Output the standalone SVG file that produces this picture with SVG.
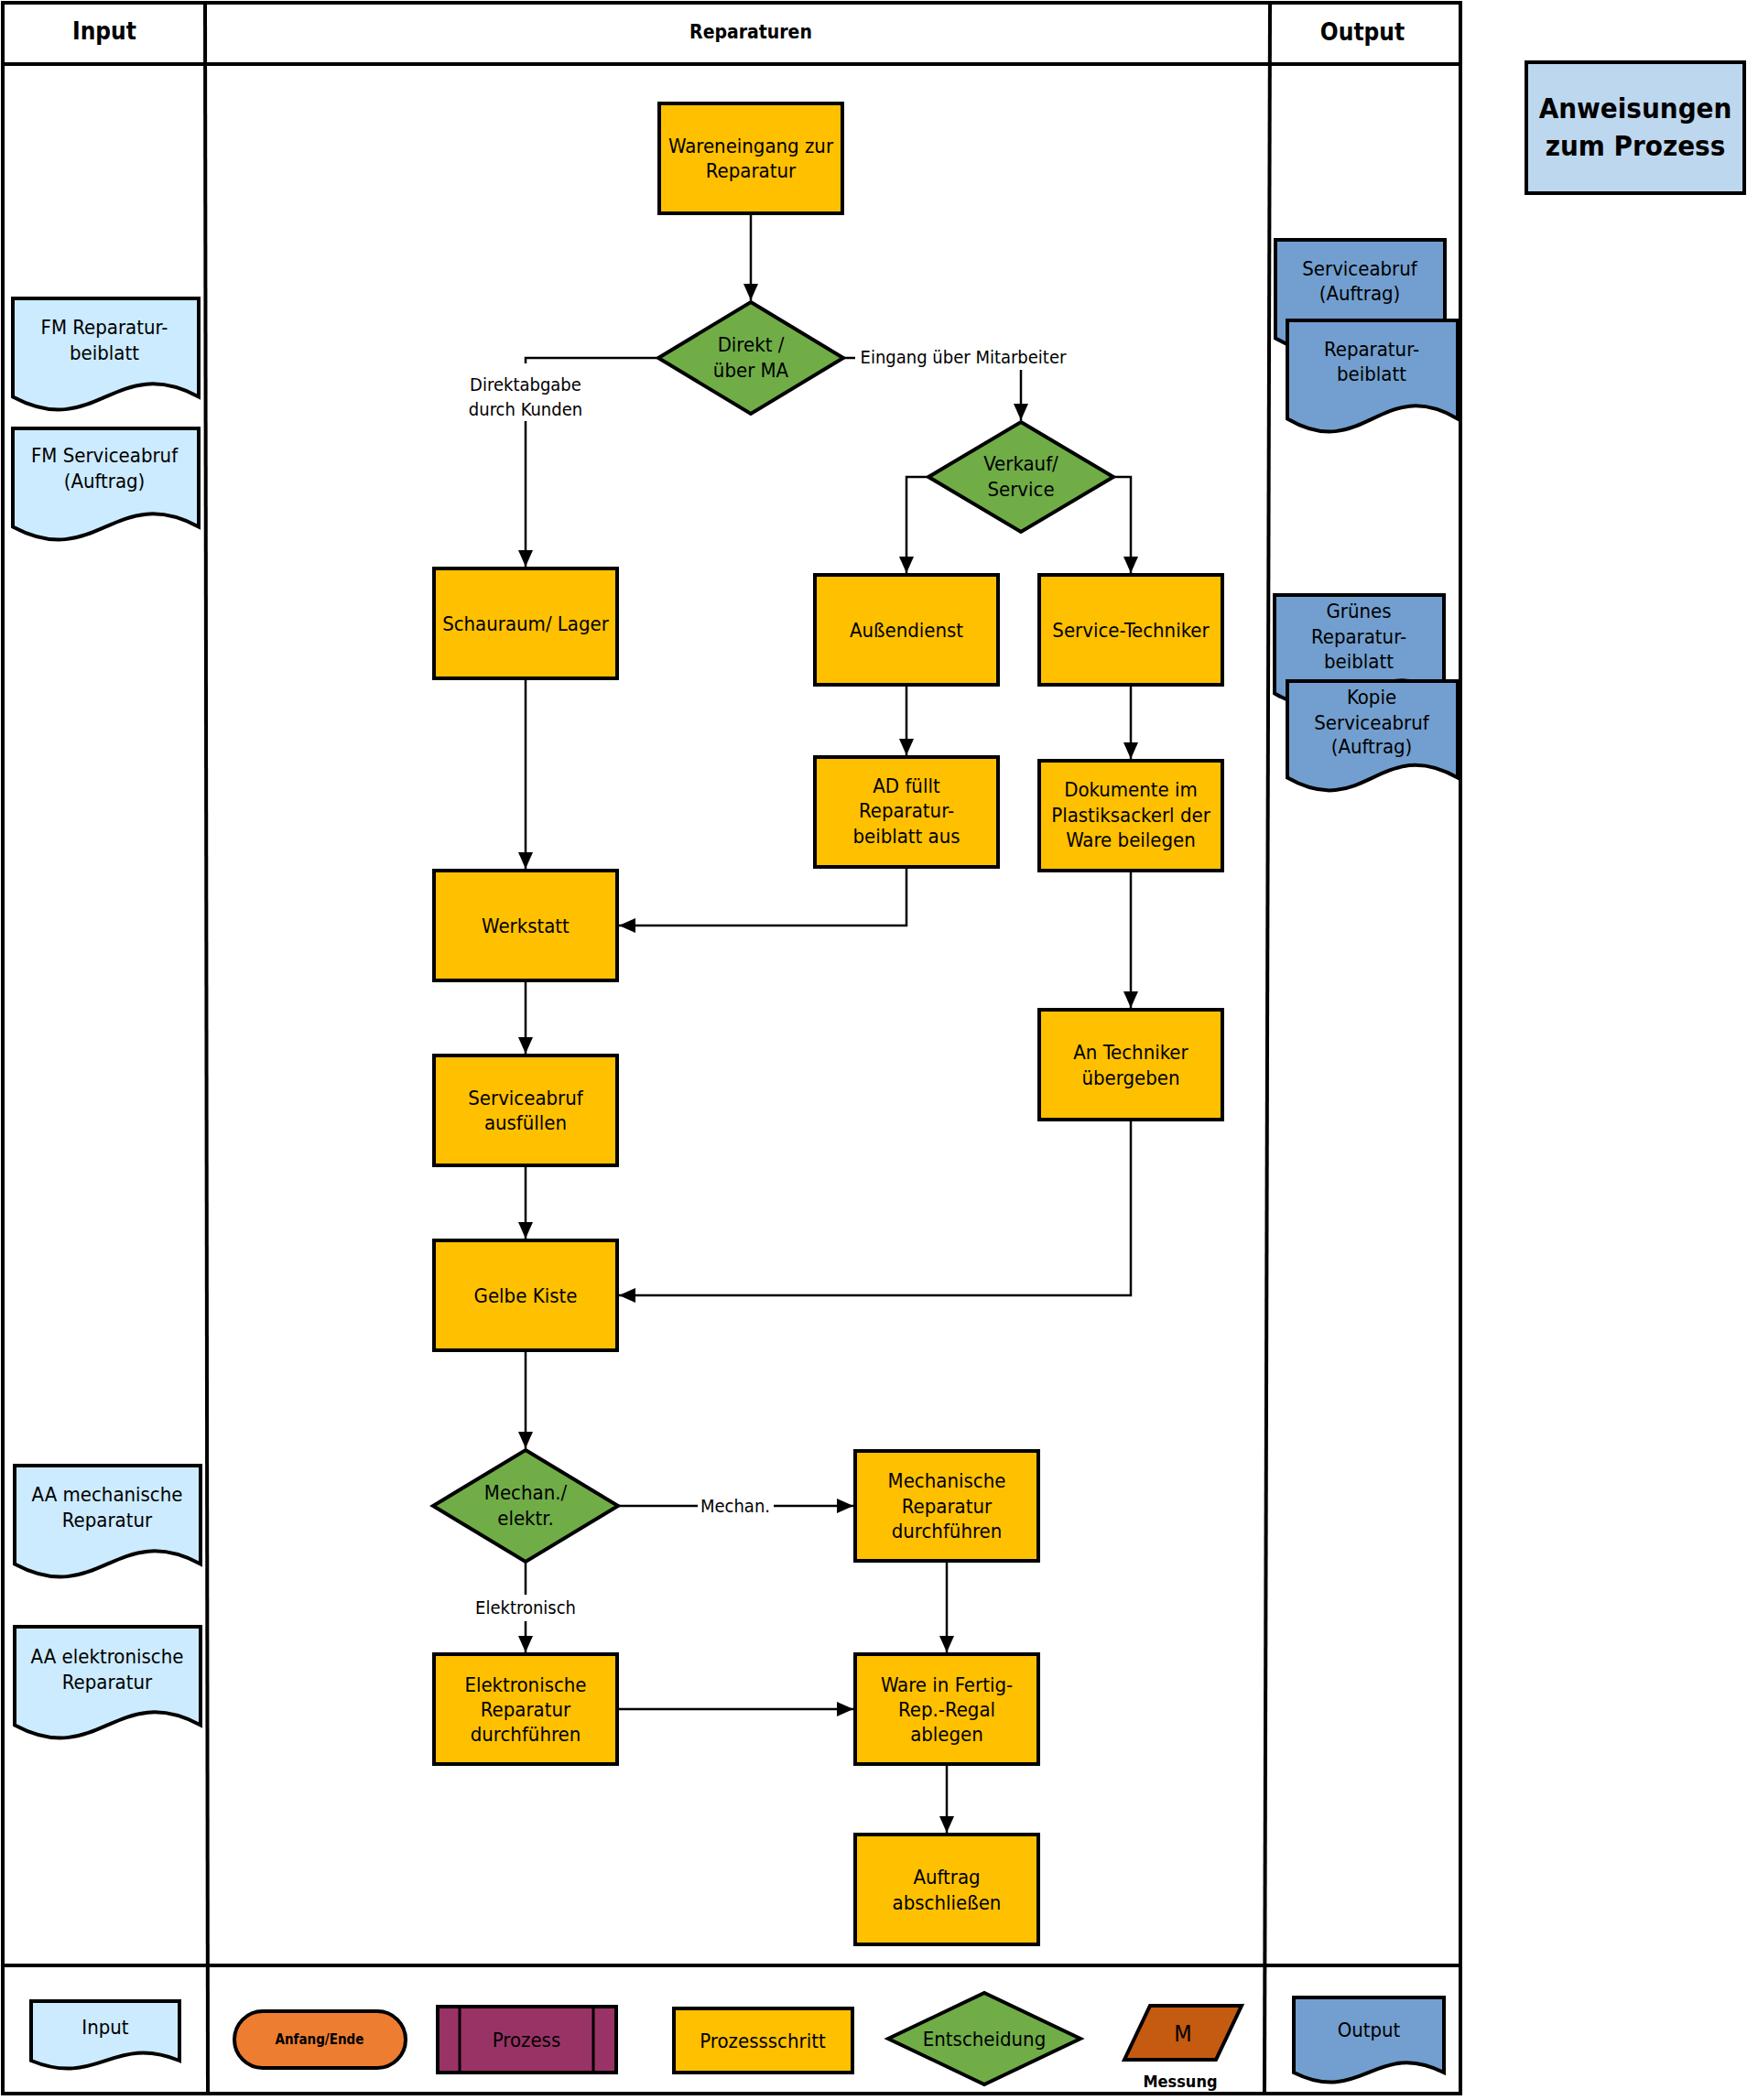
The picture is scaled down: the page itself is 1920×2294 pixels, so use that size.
<svg xmlns="http://www.w3.org/2000/svg" width="1920" height="2294" viewBox="0 0 1920 2294">
<defs>
<style>
text{font-family:'DejaVu Sans Condensed','DejaVu Sans',sans-serif;font-stretch:condensed;font-size:22px;text-anchor:middle;dominant-baseline:central;fill:#000}
.b{font-weight:bold}
.lbl{font-size:20px}
.hdr{font-size:26px;font-weight:bold}
.hdr2{font-size:21px;font-weight:bold}
.anw{font-size:31px;font-weight:bold}
.frame{fill:none;stroke:#000;stroke-width:4}
.proc{fill:#FFC000;stroke:#000;stroke-width:4}
.dec{fill:#70AD47;stroke:#000;stroke-width:4}
.docin{fill:#CCEBFF;stroke:#000;stroke-width:4}
.docout{fill:#729FCF;stroke:#000;stroke-width:4}
.conn{fill:none;stroke:#000;stroke-width:2.5;marker-end:url(#arr)}
</style>
<marker id="arr" markerUnits="userSpaceOnUse" markerWidth="18" markerHeight="18" refX="18" refY="9" orient="auto">
<path d="M0,1 L18,9 L0,17 Z" fill="#000"/>
</marker>
</defs>
<rect width="1920" height="2294" fill="#fff"/>

<g id="frame">
<rect class="frame" x="3" y="3" width="1592" height="2284"/>
<line class="frame" x1="224" y1="3" x2="227" y2="2287"/>
<line class="frame" x1="1387" y1="3" x2="1381" y2="2287"/>
<line class="frame" x1="3" y1="70" x2="1595" y2="70"/>
<line class="frame" x1="3" y1="2147" x2="1595" y2="2147"/>
<text class="hdr" x="114" y="34">Input</text>
<text class="hdr2" x="820" y="35">Reparaturen</text>
<text class="hdr" x="1488" y="35">Output</text>
</g>

<g id="anweisungen">
<rect x="1667" y="68" width="238" height="143" fill="#BDD7EE" stroke="#000" stroke-width="4"/>
<text class="anw" x="1786" y="118">Anweisungen</text>
<text class="anw" x="1786" y="159">zum Prozess</text>
</g>

<g id="connectors">
<path class="conn" d="M820,235 V328"/>
<path class="conn" d="M719,391 H574 V397 M574,460 V619"/>
<path class="conn" d="M921,391 H934 M1115,404 V459"/>
<path class="conn" d="M1014,521 H990 V626"/>
<path class="conn" d="M1216,521 H1235 V626"/>
<path class="conn" d="M990,750 V825"/>
<path class="conn" d="M1235,750 V829"/>
<path class="conn" d="M574,743 V949"/>
<path class="conn" d="M990,949 V1011 H676"/>
<path class="conn" d="M1235,953 V1101"/>
<path class="conn" d="M574,1073 V1151"/>
<path class="conn" d="M574,1275 V1353"/>
<path class="conn" d="M1235,1225 V1415 H676"/>
<path class="conn" d="M574,1477 V1582"/>
<path class="conn" d="M675,1645 H762 M845,1645 H932"/>
<path class="conn" d="M574,1706 V1742 M574,1771 V1805"/>
<path class="conn" d="M1034,1707 V1805"/>
<path class="conn" d="M676,1867 H932"/>
<path class="conn" d="M1034,1929 V2002"/>
<text class="lbl" x="574" y="420">Direktabgabe</text>
<text class="lbl" x="574" y="447">durch Kunden</text>
<text class="lbl" x="1052" y="390">Eingang über Mitarbeiter</text>
<text class="lbl" x="803" y="1645">Mechan.</text>
<text class="lbl" x="574" y="1756">Elektronisch</text>
</g>

<g id="in-fm-reparatur">
<path class="docin" d="M14,326 H217 V433.4 C125.6,384.6 105.4,482.2 14,433.4 Z"/>
<text x="114" y="357">FM Reparatur-</text>
<text x="114" y="385">beiblatt</text>
</g>
<g id="in-fm-serviceabruf">
<path class="docin" d="M14,468 H217 V575.4 C125.6,526.6 105.4,624.2 14,575.4 Z"/>
<text x="114" y="497">FM Serviceabruf</text>
<text x="114" y="525">(Auftrag)</text>
</g>
<g id="in-aa-mech">
<path class="docin" d="M16,1601 H219 V1708.4 C127.6,1659.6 107.4,1757.2 16,1708.4 Z"/>
<text x="117" y="1632">AA mechanische</text>
<text x="117" y="1660">Reparatur</text>
</g>
<g id="in-aa-elek">
<path class="docin" d="M16,1777 H219 V1884.4 C127.6,1835.6 107.4,1933.2 16,1884.4 Z"/>
<text x="117" y="1809">AA elektronische</text>
<text x="117" y="1837">Reparatur</text>
</g>

<g id="out-serviceabruf">
<path class="docout" d="M1393,262 H1578 V369.4 C1494.8,320.6 1476.3,418.2 1393,369.4 Z"/>
<text x="1485" y="293">Serviceabruf</text>
<text x="1485" y="320">(Auftrag)</text>
</g>
<g id="out-reparatur">
<path class="docout" d="M1406,350 H1592 V457.4 C1508.3,408.6 1489.7,506.2 1406,457.4 Z"/>
<text x="1498" y="381">Reparatur-</text>
<text x="1498" y="408">beiblatt</text>
</g>
<g id="out-gruenes">
<path class="docout" d="M1392,650 H1577 V757.4 C1493.8,708.6 1475.3,806.2 1392,757.4 Z"/>
<text x="1484" y="667">Grünes</text>
<text x="1484" y="695">Reparatur-</text>
<text x="1484" y="722">beiblatt</text>
</g>
<g id="out-kopie">
<path class="docout" d="M1406,744 H1592 V849.6 C1508.3,801.6 1489.7,897.6 1406,849.6 Z"/>
<text x="1498" y="761">Kopie</text>
<text x="1498" y="789">Serviceabruf</text>
<text x="1498" y="815">(Auftrag)</text>
</g>

<g id="n-wareneingang">
<rect class="proc" x="720" y="113" width="200" height="120"/>
<text x="820" y="159">Wareneingang zur</text>
<text x="820" y="186">Reparatur</text>
</g>
<g id="d-direkt">
<polygon class="dec" points="820,330 921,391 820,452 719,391"/>
<text x="820" y="376">Direkt /</text>
<text x="820" y="404">über MA</text>
</g>
<g id="d-verkauf">
<polygon class="dec" points="1115,461 1216,521 1115,581 1014,521"/>
<text x="1115" y="506">Verkauf/</text>
<text x="1115" y="534">Service</text>
</g>
<g id="n-schauraum">
<rect class="proc" x="474" y="621" width="200" height="120"/>
<text x="574" y="681">Schauraum/ Lager</text>
</g>
<g id="n-aussendienst">
<rect class="proc" x="890" y="628" width="200" height="120"/>
<text x="990" y="688">Außendienst</text>
</g>
<g id="n-servicetechniker">
<rect class="proc" x="1135" y="628" width="200" height="120"/>
<text x="1235" y="688">Service-Techniker</text>
</g>
<g id="n-adfuellt">
<rect class="proc" x="890" y="827" width="200" height="120"/>
<text x="990" y="858">AD füllt</text>
<text x="990" y="885">Reparatur-</text>
<text x="990" y="913">beiblatt aus</text>
</g>
<g id="n-dokumente">
<rect class="proc" x="1135" y="831" width="200" height="120"/>
<text x="1235" y="862">Dokumente im</text>
<text x="1235" y="890">Plastiksackerl der</text>
<text x="1235" y="917">Ware beilegen</text>
</g>
<g id="n-werkstatt">
<rect class="proc" x="474" y="951" width="200" height="120"/>
<text x="574" y="1011">Werkstatt</text>
</g>
<g id="n-antechniker">
<rect class="proc" x="1135" y="1103" width="200" height="120"/>
<text x="1235" y="1149">An Techniker</text>
<text x="1235" y="1177">übergeben</text>
</g>
<g id="n-serviceabruf">
<rect class="proc" x="474" y="1153" width="200" height="120"/>
<text x="574" y="1199">Serviceabruf</text>
<text x="574" y="1226">ausfüllen</text>
</g>
<g id="n-gelbekiste">
<rect class="proc" x="474" y="1355" width="200" height="120"/>
<text x="574" y="1415">Gelbe Kiste</text>
</g>
<g id="d-mechan">
<polygon class="dec" points="574,1584 675,1645 574,1706 473,1645"/>
<text x="574" y="1630">Mechan./</text>
<text x="574" y="1658">elektr.</text>
</g>
<g id="n-mechanische">
<rect class="proc" x="934" y="1585" width="200" height="120"/>
<text x="1034" y="1617">Mechanische</text>
<text x="1034" y="1645">Reparatur</text>
<text x="1034" y="1672">durchführen</text>
</g>
<g id="n-elektronische">
<rect class="proc" x="474" y="1807" width="200" height="120"/>
<text x="574" y="1840">Elektronische</text>
<text x="574" y="1867">Reparatur</text>
<text x="574" y="1894">durchführen</text>
</g>
<g id="n-ware">
<rect class="proc" x="934" y="1807" width="200" height="120"/>
<text x="1034" y="1840">Ware in Fertig-</text>
<text x="1034" y="1867">Rep.-Regal</text>
<text x="1034" y="1894">ablegen</text>
</g>
<g id="n-auftrag">
<rect class="proc" x="934" y="2004" width="200" height="120"/>
<text x="1034" y="2050">Auftrag</text>
<text x="1034" y="2078">abschließen</text>
</g>

<g id="legend">
<g id="lg-input">
<path class="docin" d="M34,2186 H196 V2251 C123.1,2221.5 106.9,2280.7 34,2251 Z"/>
<text x="115" y="2214">Input</text>
</g>
<g id="lg-anfang">
<rect x="256" y="2197" width="187" height="62" rx="31" fill="#ED7D31" stroke="#000" stroke-width="4"/>
<text class="b" x="349" y="2228" style="font-size:15px">Anfang/Ende</text>
</g>
<g id="lg-prozess">
<rect x="478" y="2192" width="195" height="72" fill="#993366" stroke="#000" stroke-width="4"/>
<line x1="502" y1="2192" x2="502" y2="2264" stroke="#000" stroke-width="3"/>
<line x1="648" y1="2192" x2="648" y2="2264" stroke="#000" stroke-width="3"/>
<text x="575" y="2228">Prozess</text>
</g>
<g id="lg-schritt">
<rect class="proc" x="736" y="2194" width="195" height="70"/>
<text x="833" y="2229">Prozessschritt</text>
</g>
<g id="lg-entscheidung">
<polygon class="dec" points="970,2227 1075,2177 1180,2227 1075,2277"/>
<text x="1075" y="2227">Entscheidung</text>
</g>
<g id="lg-messung">
<polygon points="1256,2191 1356,2191 1328,2250 1228,2250" fill="#C55A11" stroke="#000" stroke-width="4"/>
<text x="1292" y="2221" style="font-size:25px">M</text>
<text class="b" x="1289" y="2273" style="font-size:18px">Messung</text>
</g>
<g id="lg-output">
<path class="docout" d="M1413,2182 H1577 V2264 C1503.2,2226.6 1486.8,2301 1413,2264 Z"/>
<text x="1495" y="2217">Output</text>
</g>
</g>
</svg>
